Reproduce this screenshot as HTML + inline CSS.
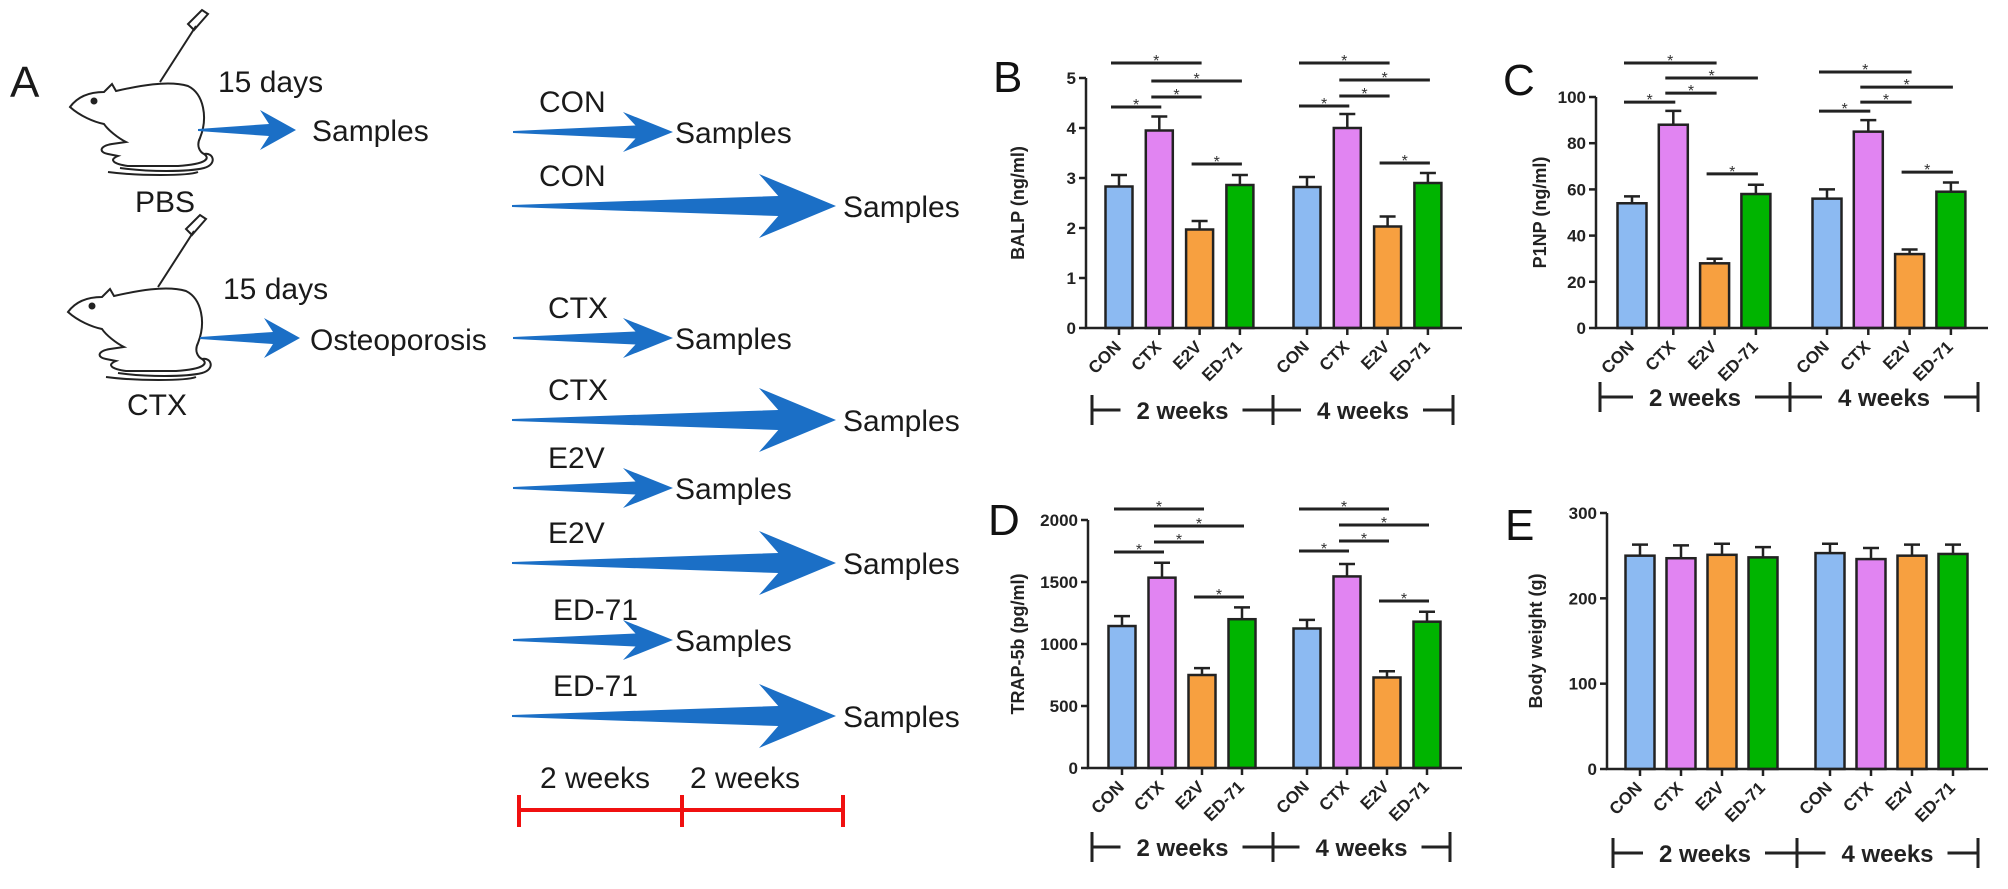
<!DOCTYPE html>
<html><head><meta charset="utf-8"><style>
html,body{margin:0;padding:0;background:#fff;}
svg{display:block;font-family:"Liberation Sans",Arial,sans-serif;}
</style></head><body>
<svg id="fig" width="2008" height="889" viewBox="0 0 2008 889" xmlns="http://www.w3.org/2000/svg">
<rect width="2008" height="889" fill="#fff"/>
<g id="panelA"></g>
<g id="charts"></g>
</svg>
<script>
// ---- chart data ----
const categories = ["CON","CTX","E2V","ED-71"];
const groups = ["2 weeks","4 weeks"];
const colors = ["#8cbaf2","#e184f2","#f7a040","#00b400"];
const balpMeans = [2.83,3.95,1.97,2.86, 2.82,4.00,2.03,2.90];
const balpErr   = [0.23,0.28,0.17,0.20, 0.20,0.28,0.20,0.20];
const balpTicks = [0,1,2,3,4,5];
const balpSig   = [[0,2,5.3],[1,3,4.94],[1,2,4.62],[0,1,4.42],[2,3,3.28],[4,6,5.3],[5,7,4.96],[5,6,4.64],[4,5,4.44],[6,7,3.3]];
const p1npMeans = [54,88,28,58, 56,85,32,59];
const p1npErr   = [3,6,2,4, 4,5,2,4];
const p1npTicks = [0,20,40,60,80,100];
const p1npSig   = [[0,2,114.7],[1,3,108.2],[1,2,101.7],[0,1,97.8],[2,3,66.7],[4,6,110.8],[5,7,104.3],[5,6,97.8],[4,5,93.9],[6,7,67.5]];
const trapMeans = [1145,1535,750,1200, 1125,1545,730,1180];
const trapErr   = [80,120,55,95, 70,100,50,80];
const trapTicks = [0,500,1000,1500,2000];
const trapSig   = [[0,2,2089],[1,3,1952],[1,2,1823],[0,1,1742],[2,3,1379],[4,6,2089],[5,7,1960],[5,6,1831],[4,5,1750],[6,7,1347]];
const bwMeans = [250,247,251,248, 253,246,250,252];
const bwErr   = [13,15,13,12, 11,13,13,11];
const bwTicks = [0,100,200,300];
const bwSig   = [];

const NS="http://www.w3.org/2000/svg";
function mk(tag, attrs, parent, text){
  const e=document.createElementNS(NS,tag);
  for(const k in attrs) e.setAttribute(k,attrs[k]);
  if(text!==undefined) e.textContent=text;
  parent.appendChild(e); return e;
}
const charts=document.getElementById('charts');

const panels=[
 {id:'b',letter:'B',lx:993,ly:92,axisX:1086,zero:328,top:78,max:5,c0:1119,step:40.3,g2:1307,bw:27,end:1462,br:410,bt:[1092,1273,1453],ylx:1024,yl:'BALP (ng/ml)',m:balpMeans,e:balpErr,t:balpTicks,s:balpSig},
 {id:'c',letter:'C',lx:1503,ly:95,axisX:1596,zero:328,top:97,max:100,c0:1632,step:41.3,g2:1827,bw:29,end:1988,br:397,bt:[1600,1790,1978],ylx:1546,yl:'P1NP (ng/ml)',m:p1npMeans,e:p1npErr,t:p1npTicks,s:p1npSig},
 {id:'d',letter:'D',lx:988,ly:535,axisX:1088,zero:768,top:520,max:2000,c0:1122,step:40,g2:1307,bw:27,end:1462,br:847,bt:[1092,1273,1450],ylx:1024,yl:'TRAP-5b (pg/ml)',m:trapMeans,e:trapErr,t:trapTicks,s:trapSig},
 {id:'e',letter:'E',lx:1505,ly:540,axisX:1607,zero:769,top:513,max:300,c0:1640,step:41,g2:1830,bw:29,end:1988,br:853,bt:[1613,1797,1978],ylx:1542,yl:'Body weight (g)',m:bwMeans,e:bwErr,t:bwTicks,s:bwSig}
];

panels.forEach(p=>{
  const g=mk('g',{},charts);
  
  
  const yS=v=>p.zero-(v/p.max)*(p.zero-p.top);
  const xS=i=> i<4 ? p.c0+i*p.step : p.g2+(i-4)*p.step;
  const L=mk('text',{x:p.lx,y:p.ly,'font-size':44,fill:'#111'},g,p.letter);
  
  
  const yl=mk('text',{x:p.ylx,y:(p.zero+p.top)/2,'font-size':18,'font-weight':'bold','text-anchor':'middle',fill:'#222',transform:`rotate(-90 ${p.ylx} ${(p.zero+p.top)/2})`},g,p.yl);
  
  
  p.m.forEach((v,i)=>{
    const cx=xS(i), y=yS(v), ye=yS(v+p.e[i]);
    const eb=mk('path',{d:`M${cx} ${y} V${ye} M${cx-8} ${ye} H${cx+8}`,stroke:'#222','stroke-width':2.5,fill:'none'},g);
    
    
    const r=mk('rect',{x:cx-p.bw/2,y:y,width:p.bw,height:p.zero-y,fill:colors[i%4],stroke:'#222','stroke-width':2.5},g);
    
    
    const tk=mk('line',{x1:cx,y1:p.zero,x2:cx,y2:p.zero+7,stroke:'#222','stroke-width':2.5},g);
    
    
    const lx=cx+3, ly=p.zero+20;
    const tl=mk('text',{x:lx,y:ly,'font-size':17,'font-weight':'bold','text-anchor':'end',fill:'#222',transform:`rotate(-45 ${lx} ${ly})`},g,categories[i%4]);
    
    
  });
  const ax=mk('path',{d:`M${p.axisX} ${p.top} V${p.zero} H${p.end}`,stroke:'#222','stroke-width':2.5,fill:'none'},g);
  
  
  p.t.forEach(t=>{
    const y=yS(t);
    const tk=mk('line',{x1:p.axisX-7,y1:y,x2:p.axisX,y2:y,stroke:'#222','stroke-width':2.5},g);
    
    
    const tl=mk('text',{x:p.axisX-10,y:y+6,'font-size':17,'font-weight':'bold','text-anchor':'end',fill:'#222'},g,String(t));
    
    
  });
  p.s.forEach(s=>{
    const y=yS(s[2]), x1=xS(s[0])-8, x2=xS(s[1])+2;
    const ln=mk('line',{x1:x1,y1:y,x2:x2,y2:y,stroke:'#222','stroke-width':3},g);
    
    
    const st=mk('text',{x:(x1+x2)/2,y:y+3,'font-size':16,'text-anchor':'middle',fill:'#333'},g,'*');
    
    
  });
  const [a,b,c]=p.bt, y=p.br;
  const m1=(a+b)/2, m2=(b+c)/2;
  const bk=mk('path',{d:`M${a} ${y-15} V${y+15} M${a} ${y} H${m1-62} M${m1+60} ${y} H${m2-62} M${b} ${y-15} V${y+15} M${m2+60} ${y} H${c} M${c} ${y-15} V${y+15}`,stroke:'#222','stroke-width':3,fill:'none'},g);
  
  
  [m1,m2].forEach((m,k)=>{
    const gt=mk('text',{x:m,y:y+9,'font-size':24,'font-weight':'bold','text-anchor':'middle',fill:'#222'},g,groups[k]);
    
    
  });
});

// ---- Panel A ----
const A=document.getElementById('panelA');
function txt(x,y,s,name,size,anchor){
  const t=mk('text',{x:x,y:y,'font-size':size||30,fill:'#1a1a1a','text-anchor':anchor||'start'},A,s);
  
  
  return t;
}
function arrow(x0,y,x1,sw,hl,hh,name){
  const pts=[[x0,y-1],[x1-hl*0.75,y-sw/2],[x1-hl,y-hh],[x1,y],[x1-hl,y+hh],[x1-hl*0.75,y+sw/2],[x0,y+1]];
  const pl=mk('polygon',{points:pts.map(q=>q.join(',')).join(' '),fill:'#1b6fc6'},A);
  
  
}
function mouse(ox,oy,name){
  const g=mk('g',{transform:`translate(${ox} ${oy})`,fill:'none',stroke:'#222','stroke-width':2},A);
  
  
  mk('path',{d:'M2 25 C10 14 22 10 36 10 L44 2 L48 9 C70 4 100 -2 120 4 C136 12 140 36 132 56 C128 64 132 70 136 72 C142 76 140 82 110 84 L60 84 C46 82 40 78 50 74 L40 72 C30 70 32 64 44 62 L58 60 C50 56 40 48 36 42 C26 40 12 34 2 25 Z'},g);
  mk('path',{d:'M52 86 C80 90 120 90 136 86 C150 82 145 70 136 72'},g);
  mk('path',{d:'M40 90 C70 94 120 94 130 90'},g);
  mk('circle',{cx:26,cy:19,r:2.5,fill:'#222'},g);
  mk('path',{d:'M92 0 L128 -56 M126 -52 L140 -68 L134 -72 L120 -58 Z'},g);
}
txt(10,97,'A','panel-a-letter',44);
mouse(68,82,'mouse-pbs');
mouse(66,287,'mouse-ctx');
txt(218,92,'15 days','duration-label-pbs');
txt(223,299,'15 days','duration-label-ctx');
txt(165,212,'PBS','group-label-pbs',30,'middle');
txt(157,415,'CTX','group-label-ctx',30,'middle');
arrow(198,130,296,12,36,20,'arrow-pbs');
arrow(200,338,300,12,36,20,'arrow-ctx');
txt(312,141,'Samples','samples-label');
txt(310,350,'Osteoporosis','osteoporosis-label');

const rows=[['CON',132,'s'],['CON',206,'l'],['CTX',338,'s'],['CTX',420,'l'],['E2V',488,'s'],['E2V',563,'l'],['ED-71',640,'s'],['ED-71',716,'l']];
rows.forEach(r=>{
  const [lab,y,k]=r;
  txt(lab==='ED-71'?553:(lab==='CON'?539:548),y-20,lab,'treatment-label-'+lab.toLowerCase());
  if(k==='s'){ arrow(513,y,673,13,50,20,'arrow-short'); txt(675,y+11,'Samples','samples-label'); }
  else { arrow(512,y,836,20,77,32,'arrow-long'); txt(843,y+11,'Samples','samples-label'); }
});
const tl=mk('path',{d:'M519 795 V827 M519 810 H843 M682 795 V827 M843 795 V827',stroke:'#f01010','stroke-width':4,fill:'none'},A);


txt(540,788,'2 weeks','timeline-label-1');
txt(690,788,'2 weeks','timeline-label-2');
</script>
</body></html>
